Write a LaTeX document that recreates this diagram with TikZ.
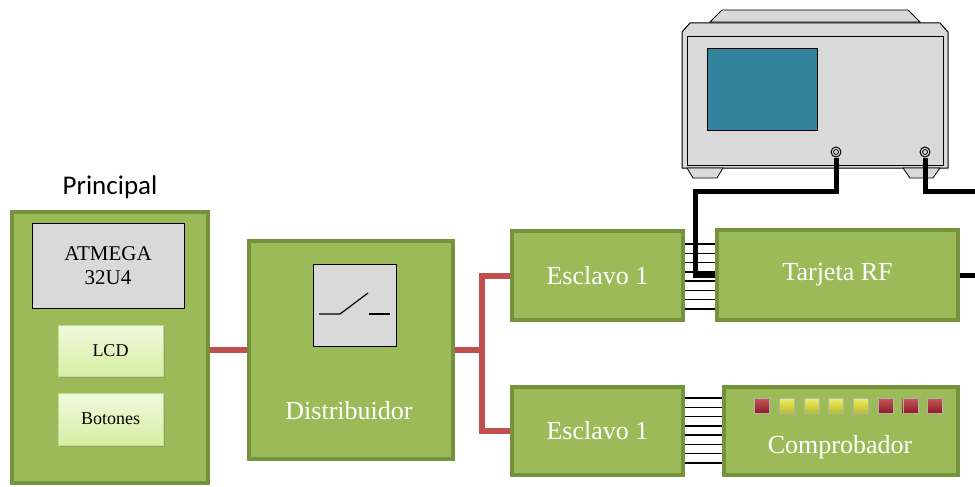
\documentclass[tikz,border=0pt]{standalone}
\usepackage{fontspec}
\setmainfont{Liberation Serif}
\newfontfamily\calibri{Carlito}
\usetikzlibrary{shadows}

\definecolor{boxgreen}{HTML}{9BBB59}
\definecolor{edgegreen}{HTML}{76923C}
\definecolor{wirered}{HTML}{C0504D}
\definecolor{panelgray}{HTML}{D9D9D9}
\definecolor{screenblue}{HTML}{31849B}
\definecolor{keytop}{HTML}{F2F9DF}
\definecolor{keybot}{HTML}{D5EFA2}
\definecolor{ledred}{HTML}{B01E28}
\definecolor{ledyellow}{HTML}{E8E830}

\tikzset{
  block/.style={draw=edgegreen, fill=boxgreen, line width=3.5pt, text=white,
    font=\fontsize{26}{30}\selectfont},
  chip/.style={draw=black, fill=panelgray, line width=0.8pt, align=center,
    font=\fontsize{21}{24}\selectfont},
  key/.style={draw=keybot!80!edgegreen, line width=0.8pt, top color=keytop,
    bottom color=keybot, drop shadow={opacity=0.35}, font=\fontsize{18}{20}\selectfont},
  wire/.style={wirered, line width=6pt},
  bus/.style={black, line width=1.3pt},
  cable/.style={black, line width=5pt},
  led/.style={minimum size=15pt, inner sep=0pt, draw=black!30, line width=0.3pt},
  port/.style={circle, draw=black, fill=panelgray, line width=1pt, minimum size=10pt, inner sep=0pt}
}

\begin{document}
\begin{tikzpicture}[x=1pt, y=-1pt]
\useasboundingbox (0,0) rectangle (975,487);

% main board
\node[font=\calibri\fontsize{27}{30}\selectfont] (title) at (110,187) {Principal};
\node[block, minimum width=196pt, minimum height=271pt] (main) at (110,347.5) {};
\node[chip, minimum width=152pt, minimum height=85pt] (mcu) at (108,265.5) {ATMEGA\\32U4};
\node[key, minimum width=105pt, minimum height=51pt] (lcd) at (110.5,350.5) {LCD};
\node[key, minimum width=105pt, minimum height=52pt] (keys) at (110.5,419) {Botones};

% distributor with switch
\node[block, minimum width=204pt, minimum height=218pt] (dist) at (351,350) {};
\node[block, draw=none, fill=none] (distlabel) at (349,411) {Distribuidor};
\node[draw=black, fill=panelgray, line width=0.8pt, minimum width=83pt, minimum height=82pt] (switch) at (354.5,305) {};
\draw[line width=1.2pt] (319,314) -- (340,314) -- (368,293);
\draw[line width=1.2pt] (369,314) -- (390,314);

% slaves and boards
\node[block, minimum width=171pt, minimum height=89pt] (esc1) at (597.5,275.5) {Esclavo 1};
\node[block, minimum width=171pt, minimum height=88pt] (esc2) at (597.5,431) {Esclavo 1};
\node[block, minimum width=241pt, minimum height=90pt] (rf) at (837.5,275) {Tarjeta RF};
\node[block, minimum width=234pt, minimum height=88pt] (chk) at (841,431) {};
\node[block, draw=none, fill=none] (chklabel) at (840,447) {Comprobador};
\foreach \c [count=\i from 0] in {ledred,ledyellow,ledyellow,ledyellow,ledyellow,ledred,ledred,ledred}
  \node[led, top color=\c!75!white, bottom color=\c!80!black] (led\i) at (762+24.7*\i,406) {};

% red links
\draw[wire] (main.east |- dist.west) -- (dist.west);
\coordinate (split) at (482,350);
\draw[wire] (dist.east) -- (split);
\draw[wire] (split) |- (esc1.west);
\draw[wire] (split) |- (esc2.west);

% parallel buses
\foreach \y in {244,253.3,262.6,271.9,281.1,290.4,299.7,309}
  \draw[bus] (esc1.east |- 0,\y) -- (rf.west |- 0,\y);
\foreach \y in {398,407.3,416.6,425.9,435.1,444.4,453.7,463}
  \draw[bus] (esc2.east |- 0,\y) -- (chk.west |- 0,\y);

% network analyser
\draw[fill=panelgray, line width=0.8pt] (710,22) -- (722,10) -- (908,10) -- (920,22) -- cycle;
\draw[fill=panelgray, line width=1pt] (682,32) -- (690,23) -- (940,23) -- (948,32) -- (948,168) -- (682,168) -- cycle;
\draw[line width=1pt] (687,37) rectangle (943,165);
\draw[fill=screenblue, line width=0.8pt] (707,48) rectangle (817,130);
\draw[fill=panelgray, line width=0.8pt] (687,168) -- (723,168) -- (717,178) -- (693,178) -- cycle;
\draw[fill=panelgray, line width=0.8pt] (903,168) -- (940,168) -- (933,178) -- (910,178) -- cycle;
\node[port] (p1) at (836,152) {};
\node[port] (p2) at (925,152) {};
\draw[line width=0.8pt] (p1) circle (2.5pt) (p2) circle (2.5pt);

% coax cables
\coordinate (bend) at (695,191);
\coordinate (out2) at (975,191);
\coordinate (out3) at (975,275);
\draw[cable] (p1.south) |- (bend) |- (rf.west);
\draw[cable] (p2.south) |- (out2);
\draw[cable] (rf.east) -- (out3);
\end{tikzpicture}
\end{document}
